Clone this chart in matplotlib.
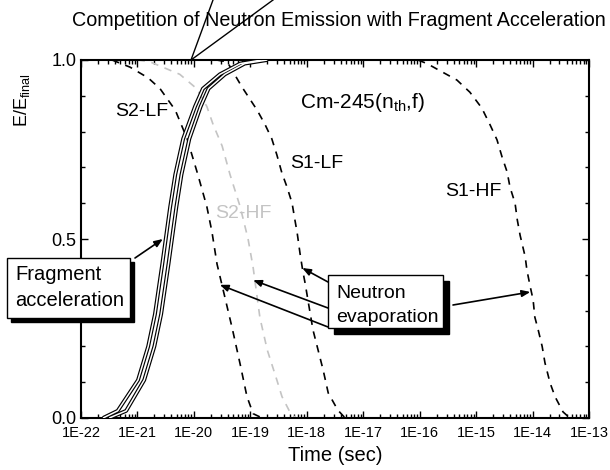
import matplotlib
matplotlib.use("Agg")
import matplotlib.pyplot as plt
from matplotlib.patches import Rectangle
from matplotlib.lines import Line2D
from matplotlib.ticker import FixedLocator, LogLocator, NullFormatter
import numpy as np

# ---------------- data (log10 of time in s, relative energy) ----------------
frag1_logt = [-21.61, -21.35, -20.99, -20.81, -20.69, -20.56, -20.42, -20.33, -20.19, -19.98, -19.84, -19.54, -19.18, -18.8]
frag1_e    = [0.0,    0.02,   0.106,  0.2,    0.29,   0.43,   0.59,   0.68,   0.78,   0.87,   0.92,   0.96,   0.99,   1.0]
frag2_logt = [-21.5,  -21.2,  -20.88, -20.7,  -20.58, -20.45, -20.31, -20.22, -20.08, -19.88, -19.74, -19.45, -19.1,  -18.7]
frag2_e    = [0.0,    0.02,   0.106,  0.2,    0.29,   0.43,   0.59,   0.68,   0.78,   0.87,   0.92,   0.96,   0.99,   1.0]

s2lf_logt = [-21.45, -21.13, -20.81, -20.6, -20.33, -20.12, -19.93, -19.77, -19.68, -19.59, -19.5, -19.32, -19.18, -19.06, -18.95, -18.79]
s2lf_e    = [1.0,    0.98,   0.95,   0.92,  0.86,   0.78,   0.68,   0.59,   0.52,   0.43,   0.37,  0.25,   0.15,   0.06,   0.012,  0.0]

s2hf_logt = [-21.0, -20.78, -20.25, -19.95, -19.77, -19.66, -19.5, -19.36, -19.18, -19.04, -18.95, -18.83, -18.7, -18.53, -18.44, -18.3, -18.2]
s2hf_e    = [1.0,   0.995,  0.96,   0.92,   0.87,   0.82,   0.76,  0.68,   0.59,   0.5,    0.42,   0.28,   0.19,  0.106,  0.06,   0.017, 0.0]

s1lf_logt = [-19.6, -19.41, -19.15, -18.88, -18.74, -18.62, -18.53, -18.44, -18.35, -18.26, -18.21, -18.17, -18.12, -18.07, -18.03, -17.98, -17.89, -17.8, -17.71, -17.62, -17.45, -17.32]
s1lf_e    = [1.0,   0.995,  0.925,  0.86,   0.82,   0.78,   0.735,  0.684,  0.645,  0.60,   0.553,  0.517,  0.46,   0.41,   0.377,  0.33,   0.246,  0.19,   0.134,  0.07,   0.022,  0.0]

s1hf_logt = [-16.03, -15.87, -15.64, -15.34, -15.11, -14.9, -14.75, -14.63, -14.54, -14.45, -14.4, -14.31, -14.27, -14.22, -14.13, -14.1, -14.04, -13.99, -13.96, -13.9, -13.83, -13.78, -13.69, -13.6, -13.46, -13.34]
s1hf_e    = [1.0,    0.99,   0.97,   0.944,  0.91,   0.866, 0.818,  0.777,  0.729,  0.687,  0.645, 0.60,   0.553,  0.51,   0.45,   0.413, 0.366,  0.33,   0.282,  0.246, 0.2,    0.154,  0.098,  0.059, 0.017,  0.0]

xtick_labels = ["1E-22", "1E-21", "1E-20", "1E-19", "1E-18", "1E-17", "1E-16", "1E-15", "1E-14", "1E-13"]
ytick_vals = [0.0, 0.5, 1.0]
ytick_labels = ["0.0", "0.5", "1.0"]

# arrow targets (log10 t, E)
frag_target = (-20.55, 0.5)
neut_targets = [(-18.08, 0.419), (-18.95, 0.385), (-19.54, 0.372), (-14.04, 0.352)]

# ---------------- fonts ----------------
regular = "Liberation Sans"
plt.rcParams['font.family'] = [regular, 'DejaVu Sans']
plt.rcParams['mathtext.fontset'] = 'custom'
plt.rcParams['mathtext.rm'] = regular

W, H = 610, 470
fig = plt.figure(figsize=(W / 100, H / 100), dpi=100)
ax = fig.add_axes([81 / W, 52 / H, 508 / W, 358 / H])

def fx(x):
    return x / W

def fy(y):
    return 1 - y / H

def t(v):
    return 10 ** np.asarray(v, dtype=float)

# fragment acceleration (double outline lines)
for lt, e in [(frag1_logt, frag1_e), (frag2_logt, frag2_e)]:
    ax.plot(t(lt), e, color="black", lw=2.8, solid_capstyle="butt", zorder=3)
    ax.plot(t(lt), e, color="white", lw=1.1, solid_capstyle="butt", zorder=4)

dash = (0, (4.5, 4))
ax.plot(t(s2lf_logt), s2lf_e, color="black", lw=1.2, ls=dash, zorder=2)
ax.plot(t(s2hf_logt), s2hf_e, color="#c4c4c4", lw=1.2, ls=dash, zorder=2)
ax.plot(t(s1lf_logt), s1lf_e, color="black", lw=1.2, ls=dash, zorder=2)
ax.plot(t(s1hf_logt), s1hf_e, color="black", lw=1.2, ls=dash, zorder=2)

ax.set_xscale("log")
ax.set_xlim(1e-22, 1e-13)
ax.set_ylim(0, 1.0)

ax.xaxis.set_major_locator(FixedLocator(10.0 ** np.arange(-22, -12)))
ax.set_xticklabels(xtick_labels, fontsize=10.5)
ax.xaxis.set_minor_locator(LogLocator(base=10, subs=np.arange(2, 10), numticks=100))
ax.xaxis.set_minor_formatter(NullFormatter())
ax.set_yticks(ytick_vals)
ax.set_yticklabels(ytick_labels, fontsize=13)
ax.yaxis.set_minor_locator(FixedLocator(np.arange(0.1, 1.0, 0.1)))

ax.tick_params(which="both", direction="in", top=True, right=True, width=1.0)
ax.tick_params(which="major", length=5)
ax.tick_params(which="minor", length=3)
ax.tick_params(axis="x", pad=6)
for s in ax.spines.values():
    s.set_linewidth(1.5)

# labels
ax.set_xlabel("Time (sec)", fontsize=14.5, labelpad=4)
fig.text(fx(22), fy(100), r"E/E$_{\rm final}$", rotation=90, ha="center", va="center", fontsize=13)
fig.text(fx(339), fy(20), "Competition of Neutron Emission with Fragment Acceleration",
         ha="center", va="center", fontsize=14.2)

# curve labels
fig.text(fx(115), fy(112), "S2-LF", ha="left", va="center", fontsize=14)
fig.text(fx(290), fy(164), "S1-LF", ha="left", va="center", fontsize=14)
fig.text(fx(215), fy(213), "S2-HF", ha="left", va="center", fontsize=14, color="#c4c4c4")
fig.text(fx(445), fy(192), "S1-HF", ha="left", va="center", fontsize=14)
fig.text(fx(300), fy(102), r"Cm-245(n$_{\rm th}$,f)", ha="left", va="center", fontsize=15)

# callout lines near title
for x2 in (213, 273):
    fig.add_artist(Line2D([fx(191), fx(x2)], [fy(60), fy(0)], color="black", lw=1.0,
                          transform=fig.transFigure, clip_on=False))

def shadow_box(x0, y0, x1, y1, off):
    fig.add_artist(Rectangle((fx(x0 + off), fy(y1 + off)), (x1 - x0) / W, (y1 - y0) / H,
                             transform=fig.transFigure, facecolor="black", edgecolor="black",
                             zorder=10))
    fig.add_artist(Rectangle((fx(x0), fy(y1)), (x1 - x0) / W, (y1 - y0) / H,
                             transform=fig.transFigure, facecolor="white", edgecolor="black",
                             lw=1.0, zorder=11))

shadow_box(7, 258, 130, 318, 4)
fig.text(fx(15), fy(275), "Fragment", ha="left", va="center", fontsize=14.5, zorder=12)
fig.text(fx(15), fy(301), "acceleration", ha="left", va="center", fontsize=14.5, zorder=12)

shadow_box(328, 275, 443, 328, 6)
fig.text(fx(336), fy(294), "Neutron", ha="left", va="center", fontsize=14, zorder=12)
fig.text(fx(336), fy(317), "evaporation", ha="left", va="center", fontsize=14, zorder=12)

arrowprops = dict(arrowstyle="-|>,head_length=0.5,head_width=0.2", color="black", lw=1.2,
                  shrinkA=0, shrinkB=0)

ax.annotate("", xy=(10 ** frag_target[0], frag_target[1]), xycoords="data",
            xytext=(fx(135), fy(258)), textcoords="figure fraction",
            arrowprops=arrowprops, zorder=13, annotation_clip=False)

starts = [(328, 282), (328, 308), (328, 327), (453, 305)]
for (sx, sy), (lt, e) in zip(starts, neut_targets):
    ax.annotate("", xy=(10 ** lt, e), xycoords="data",
                xytext=(fx(sx), fy(sy)), textcoords="figure fraction",
                arrowprops=arrowprops, zorder=13, annotation_clip=False)

fig.savefig("out.png", dpi=100)
